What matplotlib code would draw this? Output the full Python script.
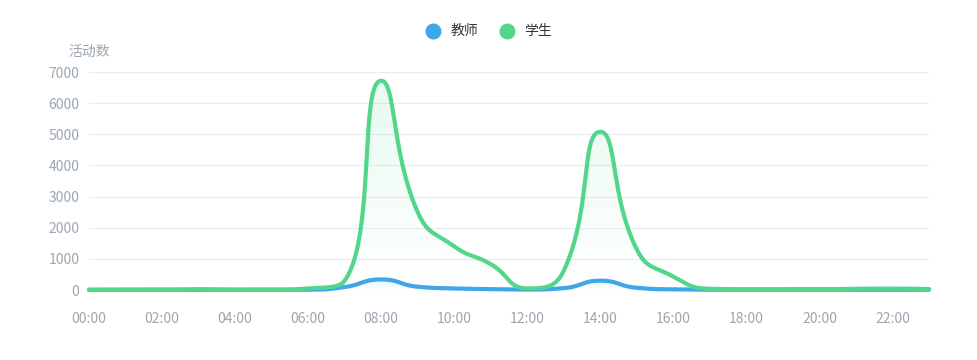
import numpy as np
import matplotlib
matplotlib.use("Agg")
import matplotlib.pyplot as plt
from matplotlib.colors import to_rgb
from matplotlib.patches import Polygon

plt.rcParams["font.family"] = ["Noto Sans CJK SC", "DejaVu Sans"]

# hourly slots 00:00 .. 23:00
times = [f"{h:02d}:00" for h in range(24)]

teacher = [5, 5, 5, 5, 5, 5, 10, 95, 340, 105, 50, 30,
           15, 60, 300, 70, 20, 10, 8, 8, 8, 8, 8, 8]
student = [10, 10, 10, 25, 10, 10, 50, 300, 6720, 2500, 1400, 830,
           50, 620, 5080, 1300, 430, 40, 25, 25, 25, 40, 45, 30]

series_names = ["教师", "学生"]
colors = ["#3fa6e8", "#52d68c"]

W, H = 978, 360
fig = plt.figure(figsize=(W / 100, H / 100), dpi=100)
ax = fig.add_axes([89 / W, 70 / H, 840 / W, 218 / H])


def smooth_curve(ys, sx, sy, smooth=0.5, n=40):
    """echarts-like smoothed bezier through the points (computed in pixel units)"""
    X = np.arange(len(ys)) * sx
    Y = np.asarray(ys, float) * sy
    N = len(X)
    cps = []
    for i in range(N):
        x, y = X[i], Y[i]
        if i == 0 or i == N - 1:
            cps.append(((x, y), (x, y)))
            continue
        px, py, nx, ny = X[i - 1], Y[i - 1], X[i + 1], Y[i + 1]
        vx, vy = nx - px, ny - py
        lp = np.hypot(x - px, y - py)
        ln = np.hypot(nx - x, ny - y)
        r = ln / (ln + lp)
        ncx = min(max(x + vx * smooth * r, min(nx, x)), max(nx, x))
        ncy = min(max(y + vy * smooth * r, min(ny, y)), max(ny, y))
        vx, vy = ncx - x, ncy - y
        pcx = min(max(x - vx * lp / ln, min(px, x)), max(px, x))
        pcy = min(max(y - vy * lp / ln, min(py, y)), max(py, y))
        vx, vy = x - pcx, y - pcy
        ncx, ncy = x + vx * ln / lp, y + vy * ln / lp
        cps.append(((pcx, pcy), (ncx, ncy)))
    t = np.linspace(0, 1, n)[:, None]
    out = []
    for i in range(N - 1):
        p0 = np.array([X[i], Y[i]])
        p1 = np.array(cps[i][1])
        p2 = np.array(cps[i + 1][0])
        p3 = np.array([X[i + 1], Y[i + 1]])
        seg = ((1 - t) ** 3) * p0 + 3 * ((1 - t) ** 2) * t * p1 + 3 * (1 - t) * t ** 2 * p2 + t ** 3 * p3
        out.append(seg if i == 0 else seg[1:])
    out = np.vstack(out)
    return out[:, 0] / sx, out[:, 1] / sy


sx, sy = 840 / (len(times) - 1), 218 / 7000
for vals, col, z in zip([teacher, student], colors, [3, 4]):
    cx, cy = smooth_curve(vals, sx, sy)
    # gradient area under the line
    top = max(vals)
    grad = np.linspace(0, 1, 256)[:, None]
    rgba = np.zeros((256, 1, 4))
    rgba[..., :3] = to_rgb(col)
    rgba[..., 3] = 0.13 * grad
    im = ax.imshow(rgba, extent=[0, len(vals) - 1, 0, top], origin="lower",
                   aspect="auto", zorder=1, interpolation="bilinear")
    poly = Polygon(np.column_stack([np.r_[cx, cx[-1], cx[0]], np.r_[cy, 0, 0]]),
                   closed=True, facecolor="none", edgecolor="none")
    ax.add_patch(poly)
    im.set_clip_path(poly)
    ax.plot(cx, cy, color=col, lw=3, solid_capstyle="round", zorder=z, clip_on=False)

ax.set_xlim(0, len(times) - 1)
ax.set_ylim(0, 7000)
ax.set_yticks(range(0, 7001, 1000))
ax.set_xticks(range(0, len(times), 2))
ax.set_xticklabels(times[::2])
ax.grid(axis="y", color="#e6edf2", lw=0.8)
ax.set_axisbelow(True)
for s in ax.spines.values():
    s.set_visible(False)
ax.tick_params(length=0, colors="#9ba6b1", labelsize=10)
ax.tick_params(axis="x", pad=16)
ax.tick_params(axis="y", pad=7)

fig.text(89 / W, 1 - 52 / H, "活动数", ha="center", va="center", fontsize=10, color="#9ba6b1")

# legend
for name, col, cxp, tx in zip(series_names, colors, [433, 507], [451, 524]):
    fig.add_artist(plt.Line2D([cxp / W], [1 - 31 / H], marker="o", markersize=10.5,
                              color=col, transform=fig.transFigure))
    fig.text(tx / W, 1 - 31 / H, name, ha="left", va="center", fontsize=10, color="#333333")

fig.savefig("out.png", dpi=100)
